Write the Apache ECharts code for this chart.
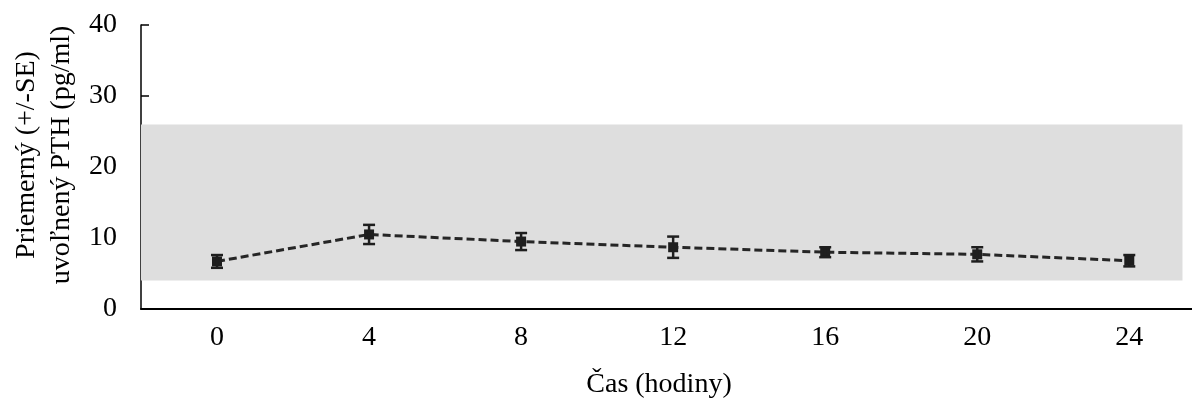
<!DOCTYPE html>
<html>
<head>
<meta charset="utf-8">
<script src="https://cdn.jsdelivr.net/npm/echarts@6/dist/echarts.min.js"></script>
<style>
    html, body { margin: 0; padding: 0; background: #fff; }
    #chart { width: 1192px; height: 408px; }
</style>
</head>
<body>
<div id="chart"></div>
<script>
// hodnoty odčítané z grafu
const hours = [0, 4, 8, 12, 16, 20, 24];
const meanPTH = [6.7, 10.5, 9.5, 8.7, 8.0, 7.7, 6.8];
const sePTH = [0.9, 1.35, 1.2, 1.5, 0.7, 1.0, 0.8];
const refRange = [4, 26];          // sivé pásmo (referenčný rozsah)
const xLabels = [0, 4, 8, 12, 16, 20, 24];
const yRange = [0, 40];

const serif = 'Liberation Serif';
const chart = echarts.init(document.getElementById('chart'));

const points = hours.map((h, i) => [h, meanPTH[i]]);
const errData = hours.map((h, i) => [h, meanPTH[i] - sePTH[i], meanPTH[i] + sePTH[i]]);

const option = {
    animation: false,
    textStyle: { fontFamily: serif },
    grid: { left: 141, top: 25, right: 0, bottom: 99 },
    xAxis: {
        type: 'value',
        min: -2,
        max: 25.65,
        splitLine: { show: false },
        axisLine: { show: true, onZero: false, lineStyle: { color: '#000', width: 2 } },
        axisTick: { show: false },
        axisLabel: {
            customValues: xLabels,
            margin: 15,
            fontFamily: serif,
            fontSize: 28,
            color: '#000'
        }
    },
    yAxis: {
        type: 'value',
        min: yRange[0],
        max: yRange[1],
        interval: 10,
        splitLine: { show: false },
        axisLine: { show: true, onZero: false, lineStyle: { color: '#000', width: 1.5 } },
        axisTick: { show: true, inside: true, length: 8, lineStyle: { color: '#000', width: 1.5 } },
        axisLabel: {
            margin: 24,
            fontFamily: serif,
            fontSize: 28,
            color: '#000'
        }
    },
    graphic: [
        {
            type: 'text',
            x: 659,
            y: 385,
            style: {
                text: 'Čas (hodiny)',
                fontFamily: serif,
                fontSize: 28,
                fill: '#000',
                align: 'center',
                verticalAlign: 'middle'
            }
        },
        {
            type: 'text',
            x: 44,
            y: 155,
            rotation: Math.PI / 2,
            style: {
                text: 'Priemerný (+/-SE)\nuvoľnený PTH (pg/ml)',
                fontFamily: serif,
                fontSize: 28,
                fill: '#000',
                align: 'center',
                verticalAlign: 'middle',
                lineHeight: 35
            }
        }
    ],
    series: [
        {
            type: 'line',
            data: points,
            symbol: 'rect',
            symbolSize: 10,
            itemStyle: { color: '#1e1e1e' },
            lineStyle: { color: '#262626', width: 3, type: [8, 4] },
            z: 3,
            markArea: {
                silent: true,
                itemStyle: { color: '#dedede' },
                data: [[{ xAxis: -2, yAxis: refRange[0] }, { xAxis: 25.4, yAxis: refRange[1] }]]
            }
        },
        {
            type: 'custom',
            data: errData,
            z: 4,
            renderItem: function (params, api) {
                const x = api.value(0);
                const lo = api.coord([x, api.value(1)]);
                const hi = api.coord([x, api.value(2)]);
                const w = 6;
                const st = { stroke: '#1e1e1e', lineWidth: 2.5 };
                return {
                    type: 'group',
                    children: [
                        { type: 'line', shape: { x1: lo[0], y1: lo[1], x2: hi[0], y2: hi[1] }, style: st },
                        { type: 'line', shape: { x1: lo[0] - w, y1: lo[1], x2: lo[0] + w, y2: lo[1] }, style: st },
                        { type: 'line', shape: { x1: hi[0] - w, y1: hi[1], x2: hi[0] + w, y2: hi[1] }, style: st }
                    ]
                };
            }
        }
    ]
};

chart.setOption(option);
</script>
</body>
</html>
